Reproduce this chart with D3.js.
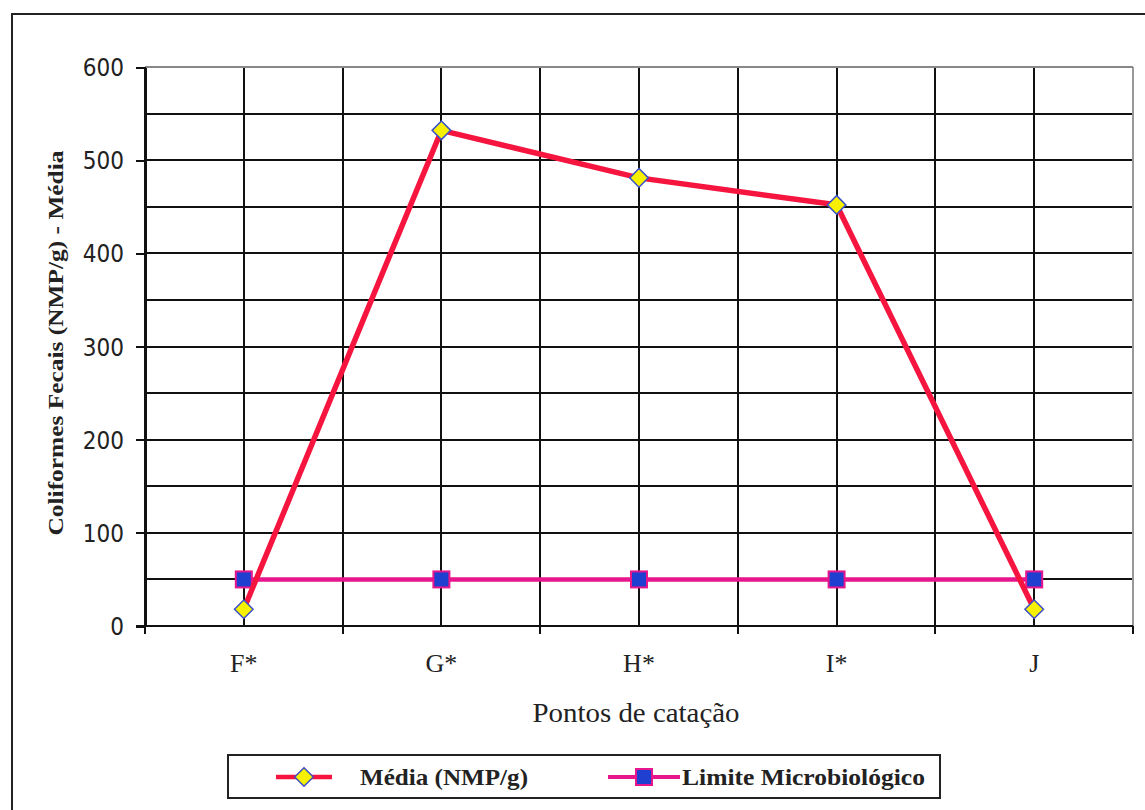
<!DOCTYPE html>
<meta charset="utf-8">
<style>
body { margin: 0; background: #fff; }
.grid line { stroke: #111; stroke-width: 2; shape-rendering: crispEdges; }
.axis path, .axis line { stroke: #111; stroke-width: 2; shape-rendering: crispEdges; }
.axis text { fill: #222; }
</style>
<body>
<svg width="1145" height="810"></svg>
<script src="https://cdn.jsdelivr.net/npm/d3@7/dist/d3.min.js"></script>
<script>

// Data
var pontos = ["F*", "G*", "H*", "I*", "J"];
var media = [18, 532, 481, 452, 18];
var limite = [50, 50, 50, 50, 50];
var yTicks = [0, 100, 200, 300, 400, 500, 600];

var svg = d3.select("svg"),
    margin = {top: 67, right: 12, bottom: 184, left: 145},
    width = 1133 - margin.left,
    height = 626 - margin.top;

// outer frame
svg.append("rect")
    .attr("x", 12).attr("y", 14)
    .attr("width", 1150).attr("height", 820)
    .attr("fill", "none").attr("stroke", "#222").attr("stroke-width", 2);

var g = svg.append("g")
    .attr("transform", "translate(" + margin.left + "," + margin.top + ")");

var x = d3.scaleBand().domain(pontos).range([0, width]),
    y = d3.scaleLinear().domain([0, 600]).range([height, 0]);

function cx(d, i) { return x(pontos[i]) + x.bandwidth() / 2; }

// horizontal grid, every 50
g.append("g").attr("class", "grid")
  .selectAll("line")
  .data(d3.range(50, 601, 50))
  .enter().append("line")
    .attr("x1", 0).attr("x2", width)
    .attr("y1", function(d) { return y(d); })
    .attr("y2", function(d) { return y(d); });

// vertical grid, at category edges and centers
var vx = [];
pontos.forEach(function(p) { vx.push(x(p) + x.bandwidth() / 2); vx.push(x(p) + x.bandwidth()); });
g.append("g").attr("class", "grid")
  .selectAll("line")
  .data(vx)
  .enter().append("line")
    .attr("x1", function(d) { return d; }).attr("x2", function(d) { return d; })
    .attr("y1", 0).attr("y2", height);

// right and top edges of the plot are lighter
g.append("line")
    .attr("x1", width).attr("x2", width).attr("y1", 0).attr("y2", height)
    .attr("stroke", "#999").attr("stroke-width", 2);
g.append("line")
    .attr("x1", 0).attr("x2", width).attr("y1", 0).attr("y2", 0)
    .attr("stroke", "#888").attr("stroke-width", 2);

// Y axis
var yAxis = g.append("g")
    .attr("class", "axis")
    .call(d3.axisLeft(y).tickValues(yTicks).tickSize(9).tickSizeOuter(0).tickPadding(12));
yAxis.selectAll("text")
    .style("font-family", "'DejaVu Sans Condensed', 'DejaVu Sans', sans-serif")
    .style("font-size", "24px")
    .attr("dy", "0.36em");

// X axis, ticks at category boundaries
var xAxis = g.append("g")
    .attr("class", "axis")
    .attr("transform", "translate(0," + height + ")")
    .call(d3.axisBottom(x).tickSize(0).tickPadding(28));
xAxis.select(".domain").remove();
xAxis.selectAll("text")
    .style("font-family", "'Liberation Serif', serif")
    .style("font-size", "26px");
g.append("g").attr("class", "axis")
  .selectAll("line")
  .data([0].concat(pontos.map(function(p) { return x(p) + x.bandwidth(); })))
  .enter().append("line")
    .attr("x1", function(d) { return d; }).attr("x2", function(d) { return d; })
    .attr("y1", height).attr("y2", height + 8);
g.append("line")
    .attr("x1", -9).attr("x2", width).attr("y1", height).attr("y2", height)
    .attr("stroke", "#111").attr("stroke-width", 2);
g.append("line")
    .attr("x1", 0).attr("x2", 0).attr("y1", 0).attr("y2", height + 8)
    .attr("stroke", "#111").attr("stroke-width", 2);

// axis titles
svg.append("text")
    .attr("x", 636).attr("y", 722)
    .style("text-anchor", "middle")
    .style("font-family", "'Liberation Serif', serif")
    .style("font-size", "27px")
    .attr("fill", "#222")
    .attr("textLength", 207).attr("lengthAdjust", "spacingAndGlyphs")
    .text("Pontos de catação");

svg.append("text")
    .attr("transform", "translate(63,343) rotate(-90)")
    .style("text-anchor", "middle")
    .style("font-family", "'Liberation Serif', serif")
    .style("font-weight", "bold")
    .style("font-size", "22px")
    .attr("fill", "#222")
    .attr("textLength", 385).attr("lengthAdjust", "spacingAndGlyphs")
    .text("Coliformes Fecais (NMP/g) - Média");

var line = d3.line()
    .x(function(d, i) { return cx(d, i); })
    .y(function(d) { return y(d); });

var mediaColor = "#f5153f", limiteColor = "#e8168c";

// Limite line
g.append("path").datum(limite)
    .attr("fill", "none").attr("stroke", limiteColor).attr("stroke-width", 4.5)
    .attr("d", line);
g.selectAll(".sq").data(limite).enter().append("rect")
    .attr("class", "sq")
    .attr("x", function(d, i) { return cx(d, i) - 8; })
    .attr("y", function(d) { return y(d) - 8; })
    .attr("width", 16).attr("height", 16)
    .attr("fill", "#1f3fd0").attr("stroke", limiteColor).attr("stroke-width", 2);

// Média line
g.append("path").datum(media)
    .attr("fill", "none").attr("stroke", mediaColor).attr("stroke-width", 5.5)
    .attr("d", line);
var diamond = d3.symbol().type(d3.symbolDiamond2).size(220);
g.selectAll(".dm").data(media).enter().append("path")
    .attr("class", "dm")
    .attr("transform", function(d, i) { return "translate(" + cx(d, i) + "," + y(d) + ")"; })
    .attr("d", diamond)
    .attr("fill", "#f7f000").attr("stroke", "#3a4fc8").attr("stroke-width", 1.5);

// Legend
var lg = svg.append("g");
lg.append("rect")
    .attr("x", 228).attr("y", 755).attr("width", 712).attr("height", 43)
    .attr("fill", "#fff").attr("stroke", "#222").attr("stroke-width", 2);
lg.append("line").attr("x1", 276).attr("x2", 332).attr("y1", 777).attr("y2", 777)
    .attr("stroke", mediaColor).attr("stroke-width", 4.5);
lg.append("path").attr("transform", "translate(304,777)").attr("d", diamond)
    .attr("fill", "#f7f000").attr("stroke", "#3a4fc8").attr("stroke-width", 1.5);
lg.append("text").attr("x", 360).attr("y", 785)
    .style("font-family", "'Liberation Serif', serif").style("font-weight", "bold")
    .style("font-size", "23px").attr("fill", "#222")
    .attr("textLength", 168).attr("lengthAdjust", "spacingAndGlyphs")
    .text("Média (NMP/g)");
lg.append("line").attr("x1", 608).attr("x2", 680).attr("y1", 777).attr("y2", 777)
    .attr("stroke", limiteColor).attr("stroke-width", 4);
lg.append("rect").attr("x", 636).attr("y", 769).attr("width", 16).attr("height", 16)
    .attr("fill", "#1f3fd0").attr("stroke", limiteColor).attr("stroke-width", 2);
lg.append("text").attr("x", 682).attr("y", 785)
    .style("font-family", "'Liberation Serif', serif").style("font-weight", "bold")
    .style("font-size", "23px").attr("fill", "#222")
    .attr("textLength", 243).attr("lengthAdjust", "spacingAndGlyphs")
    .text("Limite Microbiológico");

</script>
